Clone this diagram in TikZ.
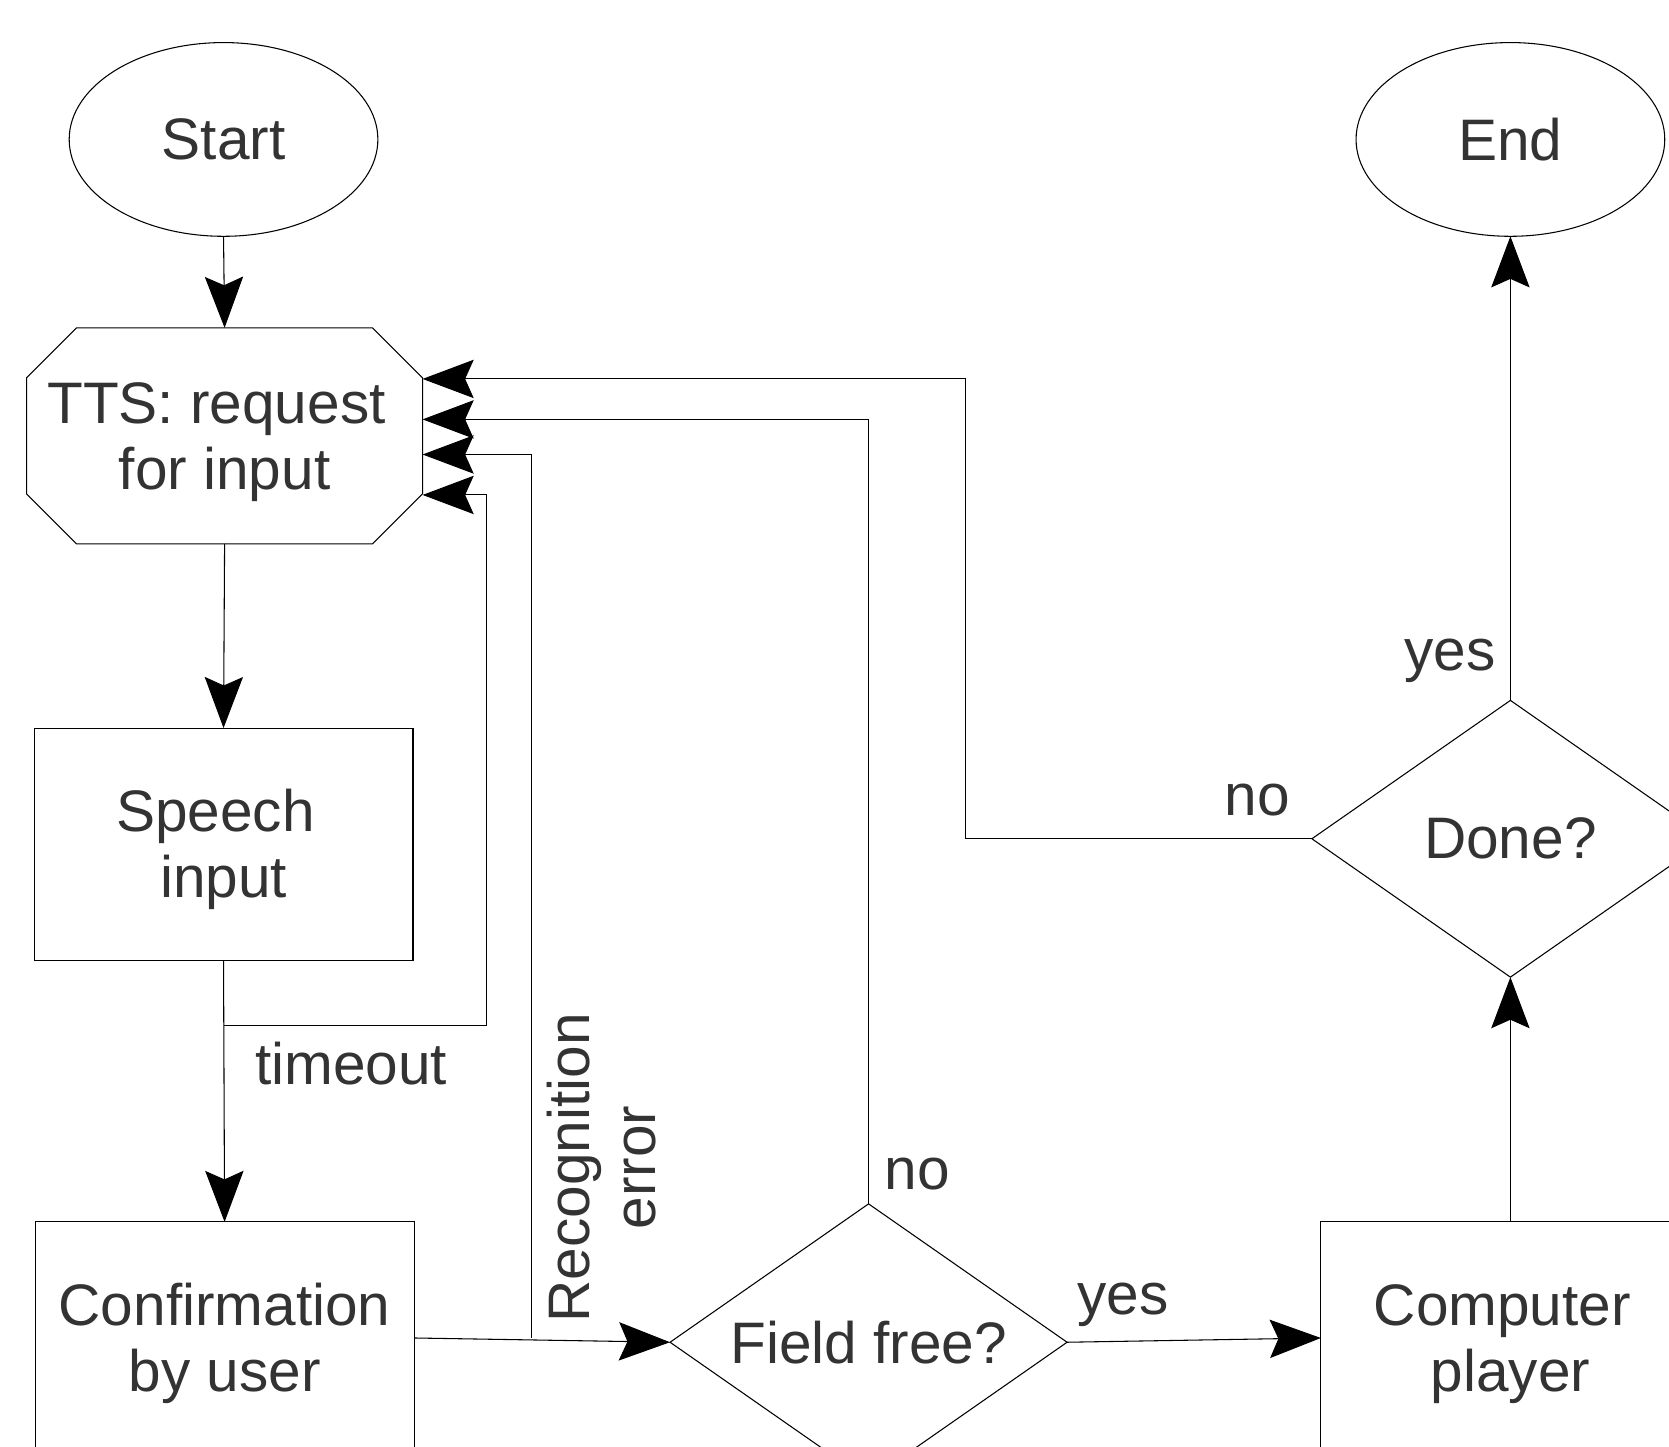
\documentclass[tikz,border=0pt]{standalone}
\usepackage{fontspec}
\setmainfont{Liberation Sans}
\usetikzlibrary{arrows.meta,shapes.geometric,calc}
\definecolor{txt}{RGB}{51,51,51}
\newcommand{\toppad}{\rule{0pt}{24.7pt}}
\begin{document}
\begin{tikzpicture}[x=0.5pt,y=-0.5pt,
  every node/.style={font=\fontsize{27.5pt}{31pt}\selectfont, text=txt, align=center, outer sep=0pt},
  line/.style={draw=black, line width=0.5pt},
  arr/.style={line, -{Stealth[length=24pt,width=18pt,inset=4pt]}},
  term/.style={ellipse, line, minimum width=145pt, minimum height=91pt},
  proc/.style={rectangle, line, minimum width=178pt, minimum height=109pt},
  dec/.style={diamond, aspect=2, inner sep=0pt, line, minimum width=186.5pt, minimum height=130pt},
  lbl/.style={inner sep=0pt}]
\clip (0,0) rectangle (1568,1359);
\fill[white] (0,0) rectangle (1568,1359);

% nodes
\node[term] (start) at (210,131) {Start};
\node[term] (end) at (1419,131) {End};
\node[rectangle, minimum width=186pt, minimum height=101.5pt] (tts) at (211,409.5) {\toppad TTS: request\kern7.6pt\\for input};
\draw[line] ($(tts.north west)+(47,0)$) -- ($(tts.north east)+(-47,0)$) -- ($(tts.north east)+(0,47)$) -- ($(tts.south east)+(0,-47)$) -- ($(tts.south east)+(-47,0)$) -- ($(tts.south west)+(47,0)$) -- ($(tts.south west)+(0,-47)$) -- ($(tts.north west)+(0,47)$) -- cycle;
\node[proc] (speech) at (210,793) {\toppad Speech\kern7.6pt\\input};
\node[proc] (conf) at (211,1257) {\toppad Confirmation\\by user};
\node[dec] (field) at (816,1261) {Field free?};
\node[proc] (comp) at (1419,1257) {\toppad Computer\kern7.6pt\\player};
\node[dec] (done) at (1419,788) {Done?};

% labels
\node[lbl] (ltimeout) at (330,999) {timeout};
\node[lbl, rotate=90] (lrecog) at (565,1097) {Recognition\\error};
\node[lbl] (lno1) at (862,1103) {no};
\node[lbl] (lyes1) at (1055,1226) {yes};
\node[lbl] (lyes2) at (1362,621) {yes};
\node[lbl] (lno2) at (1181,752) {no};

% connectors
\draw[arr] (start.south) -- (tts.north);
\draw[arr] (tts.south) -- (speech.north);
\draw[arr] (speech.south) -- (conf.north);
\coordinate (tbranch) at (210,963);
\draw[arr] (tbranch) -| (457,465) -- (tts.east |- 457,465);
\coordinate (rbranch) at (499,1257);
\draw[arr] (rbranch) |- (tts.east |- 0,427);
\draw[arr] (conf.east) -- (field.west);
\draw[arr] (field.north) |- (tts.east |- 0,394);
\draw[arr] (done.west) -| (907,356) -- (tts.east |- 0,356);
\draw[arr] (field.east) -- (comp.west);
\draw[arr] (comp.north) -- (done.south);
\draw[arr] (done.north) -- (end.south);
\end{tikzpicture}
\end{document}
